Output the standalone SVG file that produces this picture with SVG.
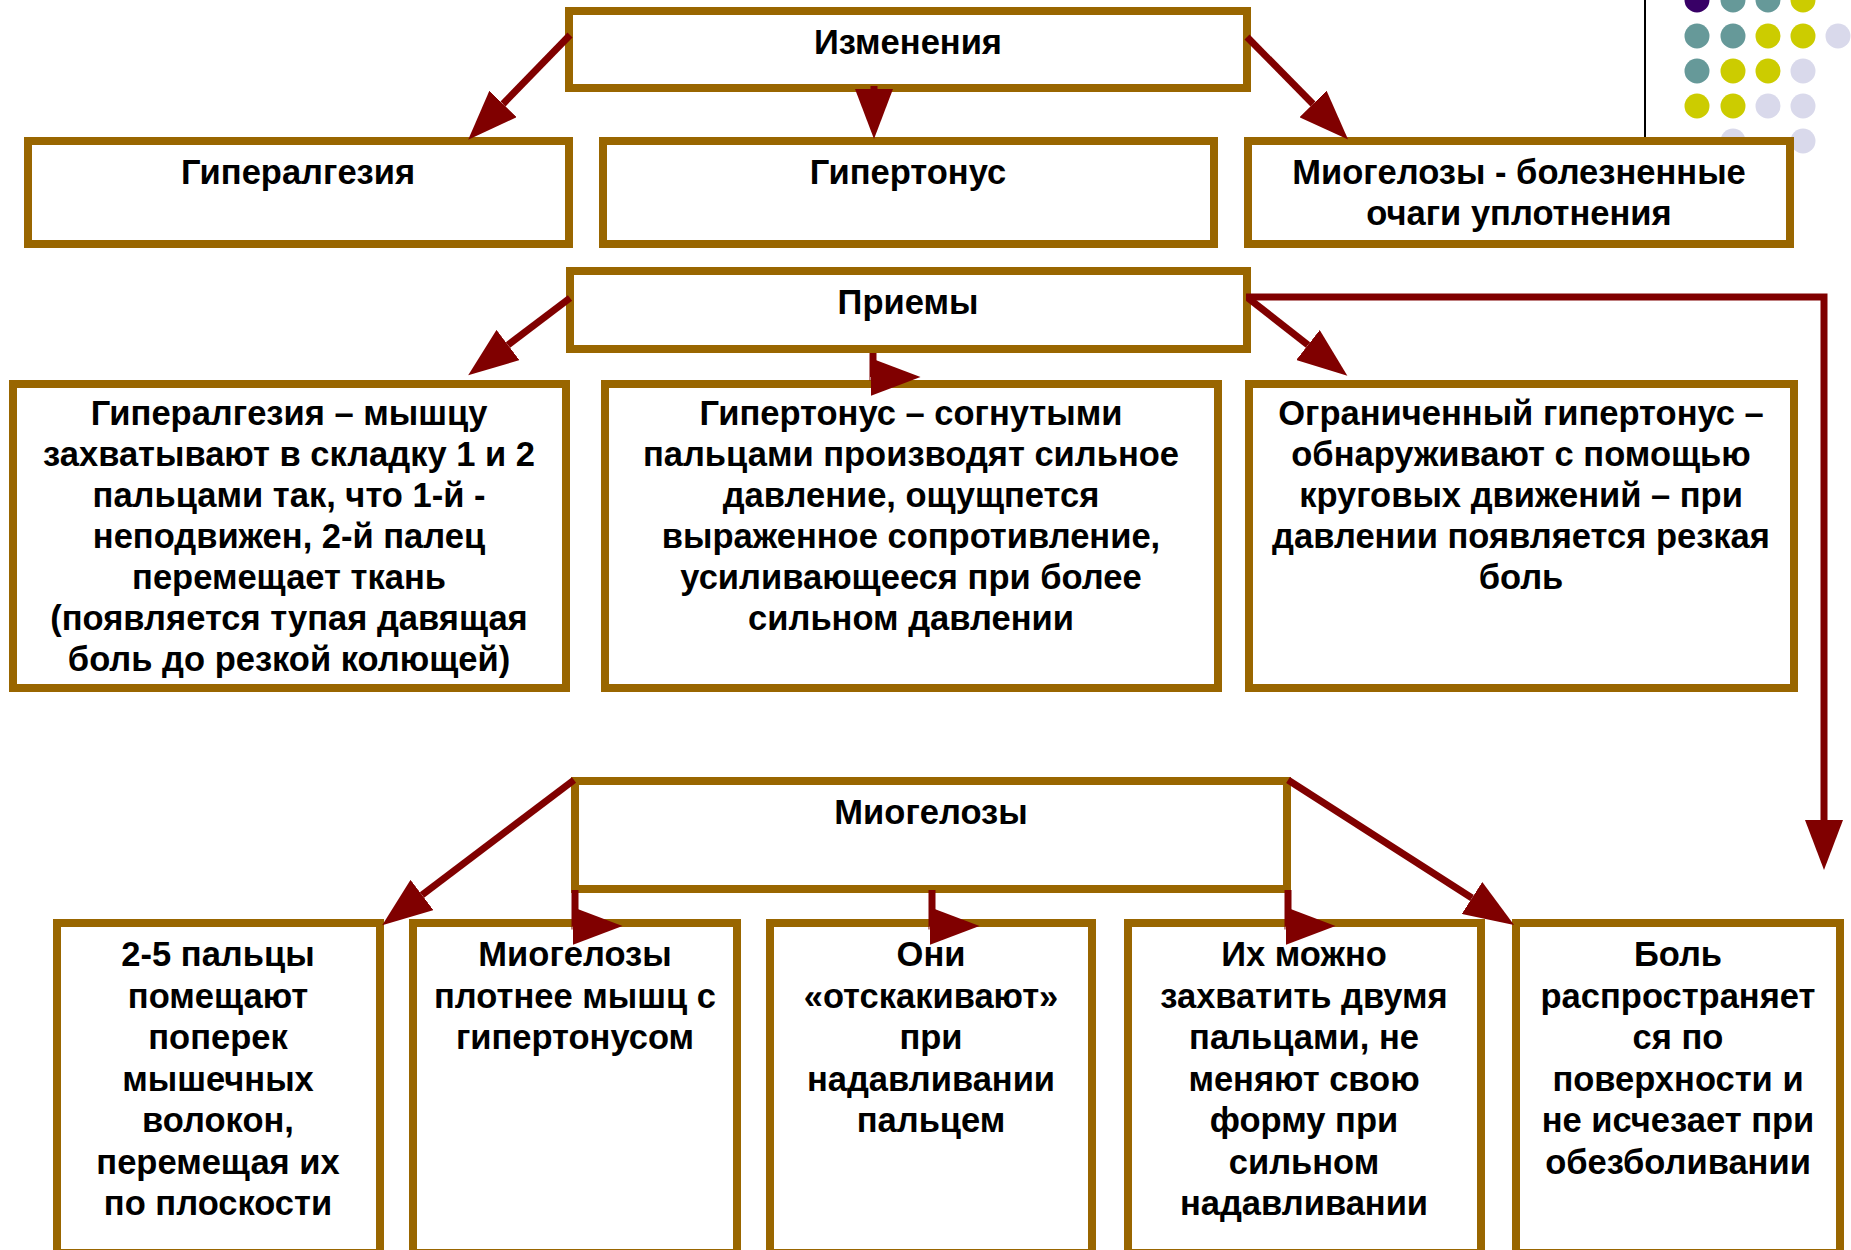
<svg xmlns="http://www.w3.org/2000/svg" width="1851" height="1250" viewBox="0 0 1851 1250">
<style>
.box{fill:#ffffff;stroke:#996600;stroke-width:8}
.t{font-family:"Liberation Sans",Arial,sans-serif;font-weight:bold;font-size:34.5px;fill:#000000;text-anchor:middle}
.c{fill:none;stroke:#800000;stroke-width:7}
.p{fill:#380066}.g{fill:#669999}.y{fill:#cccc00}.l{fill:#d9d9eb}
</style>
<defs>
<marker id="ah" markerUnits="userSpaceOnUse" markerWidth="50" markerHeight="38" viewBox="0 0 50 38" refX="0" refY="19" orient="auto">
<path d="M0,0 L50,19 L0,38 z" fill="#800000"/>
</marker>
</defs>
<g id="decor">
<line x1="1645" y1="0" x2="1645" y2="137" stroke="#000000" stroke-width="2"/>
<circle class="p" cx="1697" cy="0" r="12.5"/><circle class="g" cx="1733" cy="0" r="12.5"/><circle class="g" cx="1768" cy="0" r="12.5"/><circle class="y" cx="1803" cy="0" r="12.5"/>
<circle class="g" cx="1697" cy="36" r="12.5"/><circle class="g" cx="1733" cy="36" r="12.5"/><circle class="y" cx="1768" cy="36" r="12.5"/><circle class="y" cx="1803" cy="36" r="12.5"/><circle class="l" cx="1838" cy="36" r="12.5"/>
<circle class="g" cx="1697" cy="71" r="12.5"/><circle class="y" cx="1733" cy="71" r="12.5"/><circle class="y" cx="1768" cy="71" r="12.5"/><circle class="l" cx="1803" cy="71" r="12.5"/>
<circle class="y" cx="1697" cy="106" r="12.5"/><circle class="y" cx="1733" cy="106" r="12.5"/><circle class="l" cx="1768" cy="106" r="12.5"/><circle class="l" cx="1803" cy="106" r="12.5"/>
<circle class="l" cx="1733" cy="141" r="12.5"/><circle class="l" cx="1803" cy="141" r="12.5"/>
</g>
<g id="n-izmeneniya"><rect class="box" x="569" y="11" width="678" height="77"/><text class="t" x="908" y="54">Изменения</text></g>
<g id="n-giperalgeziya"><rect class="box" x="28" y="141" width="541" height="103"/><text class="t" x="298" y="184">Гипералгезия</text></g>
<g id="n-gipertonus"><rect class="box" x="603" y="141" width="611" height="103"/><text class="t" x="908" y="184">Гипертонус</text></g>
<g id="n-miogelozy-top"><rect class="box" x="1248" y="141" width="542" height="103"/><text class="t" x="1519" y="184">Миогелозы - болезненные</text><text class="t" x="1519" y="225">очаги уплотнения</text></g>
<g id="n-priemy"><rect class="box" x="570" y="271" width="677" height="78"/><text class="t" x="908" y="314">Приемы</text></g>
<g id="n-priem-giperalgeziya"><rect class="box" x="13" y="384" width="553" height="304"/>
<text class="t" x="289" y="424.5">Гипералгезия – мышцу</text>
<text class="t" x="289" y="465.5">захватывают в складку 1 и 2</text>
<text class="t" x="289" y="506.5">пальцами так, что 1-й -</text>
<text class="t" x="289" y="547.5">неподвижен, 2-й палец</text>
<text class="t" x="289" y="588.5">перемещает ткань</text>
<text class="t" x="289" y="629.5">(появляется тупая давящая</text>
<text class="t" x="289" y="670.5">боль до резкой колющей)</text>
</g>
<g id="n-priem-gipertonus"><rect class="box" x="605" y="384" width="613" height="304"/>
<text class="t" x="911" y="424.5">Гипертонус – согнутыми</text>
<text class="t" x="911" y="465.5">пальцами производят сильное</text>
<text class="t" x="911" y="506.5">давление, ощущпется</text>
<text class="t" x="911" y="547.5">выраженное сопротивление,</text>
<text class="t" x="911" y="588.5">усиливающееся при более</text>
<text class="t" x="911" y="629.5">сильном давлении</text>
</g>
<g id="n-priem-ogranichenny"><rect class="box" x="1249" y="384" width="545" height="304"/>
<text class="t" x="1521" y="424.5">Ограниченный гипертонус –</text>
<text class="t" x="1521" y="465.5">обнаруживают с помощью</text>
<text class="t" x="1521" y="506.5">круговых движений – при</text>
<text class="t" x="1521" y="547.5">давлении появляется резкая</text>
<text class="t" x="1521" y="588.5">боль</text>
</g>
<g id="n-miogelozy"><rect class="box" x="575" y="781" width="712" height="108"/><text class="t" x="931" y="824">Миогелозы</text></g>
<g id="n-b1"><rect class="box" x="57" y="923" width="323" height="330"/>
<text class="t" x="218" y="966">2-5 пальцы</text>
<text class="t" x="218" y="1007.5">помещают</text>
<text class="t" x="218" y="1049">поперек</text>
<text class="t" x="218" y="1090.5">мышечных</text>
<text class="t" x="218" y="1132">волокон,</text>
<text class="t" x="218" y="1173.5">перемещая их</text>
<text class="t" x="218" y="1215">по плоскости</text>
</g>
<g id="n-b2"><rect class="box" x="413" y="923" width="324" height="330"/>
<text class="t" x="575" y="966">Миогелозы</text>
<text class="t" x="575" y="1007.5">плотнее мышц с</text>
<text class="t" x="575" y="1049">гипертонусом</text>
</g>
<g id="n-b3"><rect class="box" x="770" y="923" width="322" height="330"/>
<text class="t" x="931" y="966">Они</text>
<text class="t" x="931" y="1007.5">«отскакивают»</text>
<text class="t" x="931" y="1049">при</text>
<text class="t" x="931" y="1090.5">надавливании</text>
<text class="t" x="931" y="1132">пальцем</text>
</g>
<g id="n-b4"><rect class="box" x="1128" y="923" width="353" height="330"/>
<text class="t" x="1304" y="966">Их можно</text>
<text class="t" x="1304" y="1007.5">захватить двумя</text>
<text class="t" x="1304" y="1049">пальцами, не</text>
<text class="t" x="1304" y="1090.5">меняют свою</text>
<text class="t" x="1304" y="1132">форму при</text>
<text class="t" x="1304" y="1173.5">сильном</text>
<text class="t" x="1304" y="1215">надавливании</text>
</g>
<g id="n-b5"><rect class="box" x="1516" y="923" width="324" height="330"/>
<text class="t" x="1678" y="966">Боль</text>
<text class="t" x="1678" y="1007.5">распространяет</text>
<text class="t" x="1678" y="1049">ся по</text>
<text class="t" x="1678" y="1090.5">поверхности и</text>
<text class="t" x="1678" y="1132">не исчезает при</text>
<text class="t" x="1678" y="1173.5">обезболивании</text>
</g>
<g id="connectors">
<path class="c" d="M570 35 L503 104" marker-end="url(#ah)"/>
<path class="c" d="M874 86 V89" marker-end="url(#ah)"/>
<path class="c" d="M1247 37 L1313 104" marker-end="url(#ah)"/>
<path class="c" d="M570 298 L508 345" marker-end="url(#ah)"/>
<path class="c" d="M873 353 V377 M869.5 377 H870.5" marker-end="url(#ah)"/>
<path class="c" d="M1248 298 L1308 345" marker-end="url(#ah)"/>
<path class="c" d="M1246 297 H1824 V820" marker-end="url(#ah)"/>
<path class="c" d="M574 780 L422 895" marker-end="url(#ah)"/>
<path class="c" d="M575 890 V926 M571.5 926 H572.5" marker-end="url(#ah)"/>
<path class="c" d="M932 890 V926 M928.5 926 H929.5" marker-end="url(#ah)"/>
<path class="c" d="M1288 890 V926 M1284.5 926 H1285.5" marker-end="url(#ah)"/>
<path class="c" d="M1288 780 L1472 898" marker-end="url(#ah)"/>
</g>
</svg>
